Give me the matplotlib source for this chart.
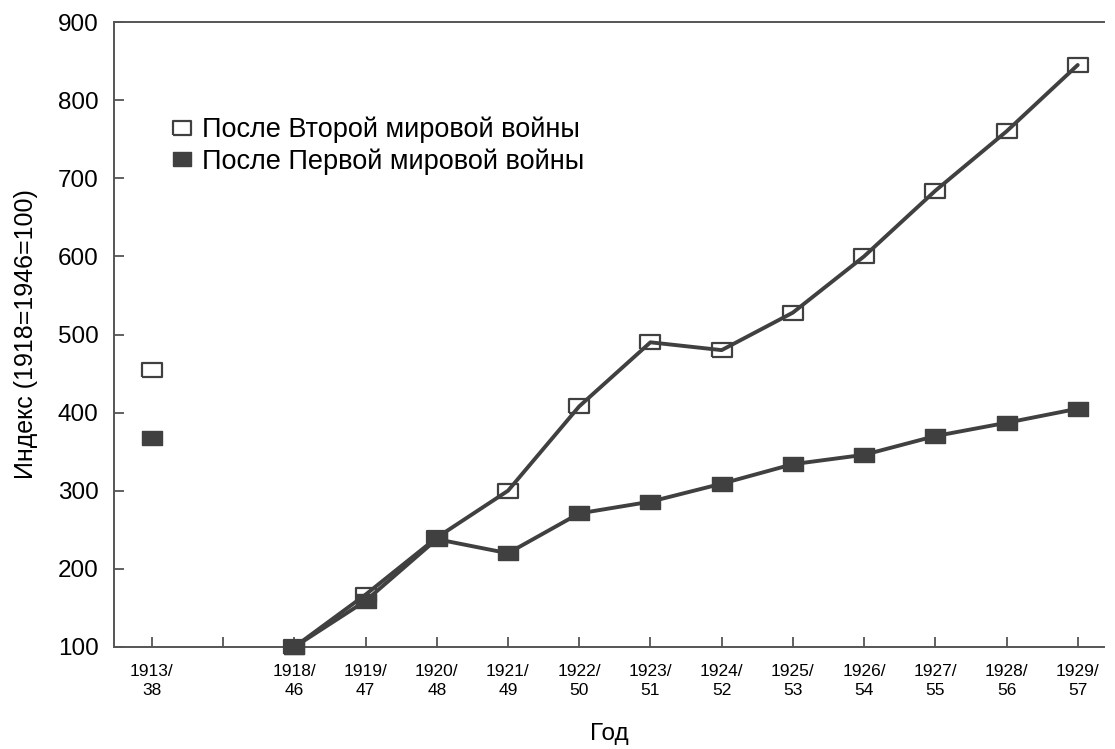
import matplotlib
matplotlib.use('Agg')
import matplotlib.pyplot as plt
from matplotlib.lines import Line2D

plt.rcParams['font.family'] = ['Liberation Sans', 'DejaVu Sans']

# data
tick_labels = ['1913/\n38', '', '1918/\n46', '1919/\n47', '1920/\n48', '1921/\n49',
               '1922/\n50', '1923/\n51', '1924/\n52', '1925/\n53', '1926/\n54',
               '1927/\n55', '1928/\n56', '1929/\n57']
pos = [0, 2, 3, 4, 5, 6, 7, 8, 9, 10, 11, 12, 13]
after_ww2 = [455, 100, 167, 240, 300, 408, 490, 480, 528, 600, 684, 760, 845]
after_ww1 = [367, 100, 159, 238, 220, 271, 286, 309, 334, 346, 370, 387, 405]

c = '#404040'
rect = [(-1, -0.75), (1, -0.75), (1, 0.75), (-1, 0.75), (-1, -0.75)]

fig = plt.figure(figsize=(11.15, 7.49), dpi=100)
ax = fig.add_axes([0.1022, 0.1362, 0.888, 0.8344])

# open markers first, line above them
ax.plot(pos, after_ww2, linestyle='none', marker=rect, ms=14, mfc='white',
        mec=c, mew=1.6, zorder=3, clip_on=False)
ax.plot(pos[1:], after_ww2[1:], color=c, lw=2.8, zorder=4, solid_capstyle='round')
ax.plot(pos[1:], after_ww1[1:], color=c, lw=2.8, zorder=5)
ax.plot(pos, after_ww1, linestyle='none', marker=rect, ms=14, mfc=c,
        mec=c, mew=1.0, zorder=6, clip_on=False)

ax.set_xlim(-0.533, 13.37)
ax.set_ylim(100, 900)
ax.set_yticks(range(100, 901, 100))
ax.set_xticks(range(len(tick_labels)))
ax.set_xticklabels(tick_labels, fontsize=12.5, linespacing=1.35)
ax.tick_params(axis='y', direction='in', length=7, width=1.3, color='#555555',
               labelsize=17.5, pad=11)
ax.tick_params(axis='x', direction='in', length=7, width=1.3, color='#555555', pad=12)

for s in ['left', 'bottom', 'top']:
    ax.spines[s].set_color('#555555')
    ax.spines[s].set_linewidth(1.4)
ax.spines['right'].set_visible(False)

ax.set_ylabel('Индекс (1918=1946=100)', fontsize=18, labelpad=14)
ax.set_xlabel('Год', fontsize=17.5, labelpad=18)

handles = [
    Line2D([], [], linestyle='none', marker=rect, ms=13, mfc='white', mec=c, mew=1.6),
    Line2D([], [], linestyle='none', marker=rect, ms=13, mfc=c, mec=c, mew=1.0),
]
ax.legend(handles, ['После Второй мировой войны', 'После Первой мировой войны'],
          loc='upper left', bbox_to_anchor=(0.047, 0.866), frameon=False,
          fontsize=19.5, handlelength=0.8, handletextpad=0.35, labelspacing=0.19,
          borderaxespad=0)

fig.savefig('out.png', dpi=100)
